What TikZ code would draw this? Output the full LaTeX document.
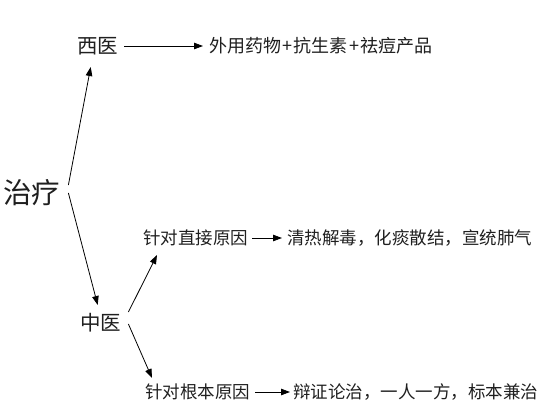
\documentclass[tikz,border=0pt]{standalone}
\usepackage{fontspec}
\setmainfont{Noto Sans CJK SC}
\usetikzlibrary{arrows.meta}
\newcommand{\plusgap}{\hspace{1.3pt}+\hspace{1.3pt}}
\begin{document}
\begin{tikzpicture}[x=1pt,y=-1pt,
  lbl/.style={anchor=west,inner sep=0pt,text=black!88},
  big/.style={lbl,font=\fontsize{28.5}{28.5}\selectfont},
  mid/.style={lbl,font=\fontsize{20.5}{20.5}\selectfont},
  sml/.style={lbl,font=\fontsize{17.5}{17.5}\selectfont},
  arr/.style={line width=0.8pt,-{Triangle[length=9pt,width=6.5pt]}}]
\useasboundingbox (0,0) rectangle (543,413);
\node[big] (zl) at (3,193) {治疗};
\node[mid] (xy) at (77,46) {西医};
\node[sml,font=\fontsize{18}{18}\selectfont] (w1) at (209,46) {外用药物\plusgap 抗生素\plusgap 祛痘产品};
\node[mid] (zy) at (80,323) {中医};
\node[sml] (d1) at (143,238) {针对直接原因};
\node[sml] (r1) at (287,238) {清热解毒，化痰散结，宣统肺气};
\node[sml] (d2) at (145,392) {针对根本原因};
\node[sml] (r2) at (293,392) {辩证论治，一人一方，标本兼治};
\draw[arr] ([xshift=8pt,yshift=8pt]zl.east) -- ([xshift=-7pt,yshift=-21pt]xy.center);
\draw[arr] ([xshift=8pt,yshift=0pt]zl.east) -- ([xshift=-3pt,yshift=18pt]zy.center);
\draw[arr] ([xshift=6pt]xy.east) -- ([xshift=-6pt]w1.west);
\draw[arr] ([xshift=7pt,yshift=11pt]zy.east) -- ([xshift=14pt,yshift=-17pt]d1.west);
\draw[arr] ([xshift=7pt,yshift=-1pt]zy.east) -- ([xshift=7pt,yshift=14pt]d2.west);
\draw[arr] ([xshift=4pt]d1.east) -- ([xshift=-5pt]r1.west);
\draw[arr] ([xshift=5pt]d2.east) -- ([xshift=-3pt]r2.west);
\end{tikzpicture}
\end{document}
